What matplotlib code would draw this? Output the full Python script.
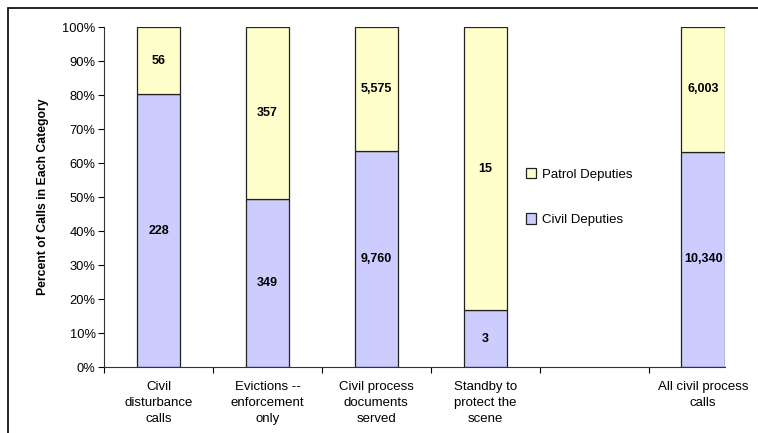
import matplotlib.pyplot as plt
import numpy as np
from matplotlib.patches import Rectangle

categories = ["Civil\ndisturbance\ncalls", "Evictions --\nenforcement\nonly",
              "Civil process\ndocuments\nserved", "Standby to\nprotect the\nscene",
              "", "All civil process\ncalls"]
civil = [228, 349, 9760, 3, 0, 10340]
patrol = [56, 357, 5575, 15, 0, 6003]

civil_color = "#CCCCFF"
patrol_color = "#FFFFCC"

plt.rcParams['font.family'] = ['Liberation Sans', 'DejaVu Sans']

fig = plt.figure(figsize=(7.58, 4.33), dpi=100)
ax = fig.add_axes([104/758, 66/433, 621/758, 340/433])

x = np.arange(len(categories))
civ = np.array(civil, dtype=float)
pat = np.array(patrol, dtype=float)
tot = civ + pat
tot[tot == 0] = 1
civ_p = civ / tot * 100
pat_p = pat / tot * 100

w = 0.4
show = (civ + pat) > 0
ax.bar(x[show], civ_p[show], w, color=civil_color, edgecolor="#222222", linewidth=0.9, label="Civil Deputies")
ax.bar(x[show], pat_p[show], w, bottom=civ_p[show], color=patrol_color, edgecolor="#222222", linewidth=0.9, label="Patrol Deputies")

for i in x[show]:
    ax.text(i, civ_p[i] / 2, f"{civil[i]:,}", ha="center", va="center", fontsize=9, fontweight="bold")
    ax.text(i, civ_p[i] + pat_p[i] / 2, f"{patrol[i]:,}", ha="center", va="center", fontsize=9, fontweight="bold")

ax.set_xlim(-0.5, 5.2)
ax.set_ylim(0, 100)
ax.set_yticks(np.arange(0, 101, 10))
ax.set_yticklabels([f"{v}%" for v in range(0, 101, 10)], fontsize=9.3)
ax.set_xticks(np.arange(-0.5, 5, 1))
ax.set_xticklabels([])
ax.set_xticks(x, minor=True)
ax.set_xticklabels(categories, minor=True, fontsize=9.5, linespacing=1.45)
ax.tick_params(axis="x", which="minor", length=0, pad=10)
ax.tick_params(axis="x", which="major", length=4, direction="out")
ax.tick_params(axis="y", length=4, direction="out", pad=2)
for s in ["top", "right"]:
    ax.spines[s].set_visible(False)
ax.spines["left"].set_color("#333333")
ax.spines["bottom"].set_color("#333333")
ax.set_ylabel("Percent of Calls in Each Category", fontsize=8.8, fontweight="bold", labelpad=10)

handles, labels = ax.get_legend_handles_labels()
ax.legend(handles[::-1], labels[::-1], loc="center left", bbox_to_anchor=(0.66, 0.5),
          frameon=False, fontsize=9.5, handlelength=0.8, handleheight=0.8,
          labelspacing=2.5, handletextpad=0.4)

fig.patches.append(Rectangle((8/758, -0.1), 1.1, (433 - 8)/433 + 0.1, transform=fig.transFigure,
                             fill=False, edgecolor="black", linewidth=1.2))

fig.savefig("out.png", dpi=100)
